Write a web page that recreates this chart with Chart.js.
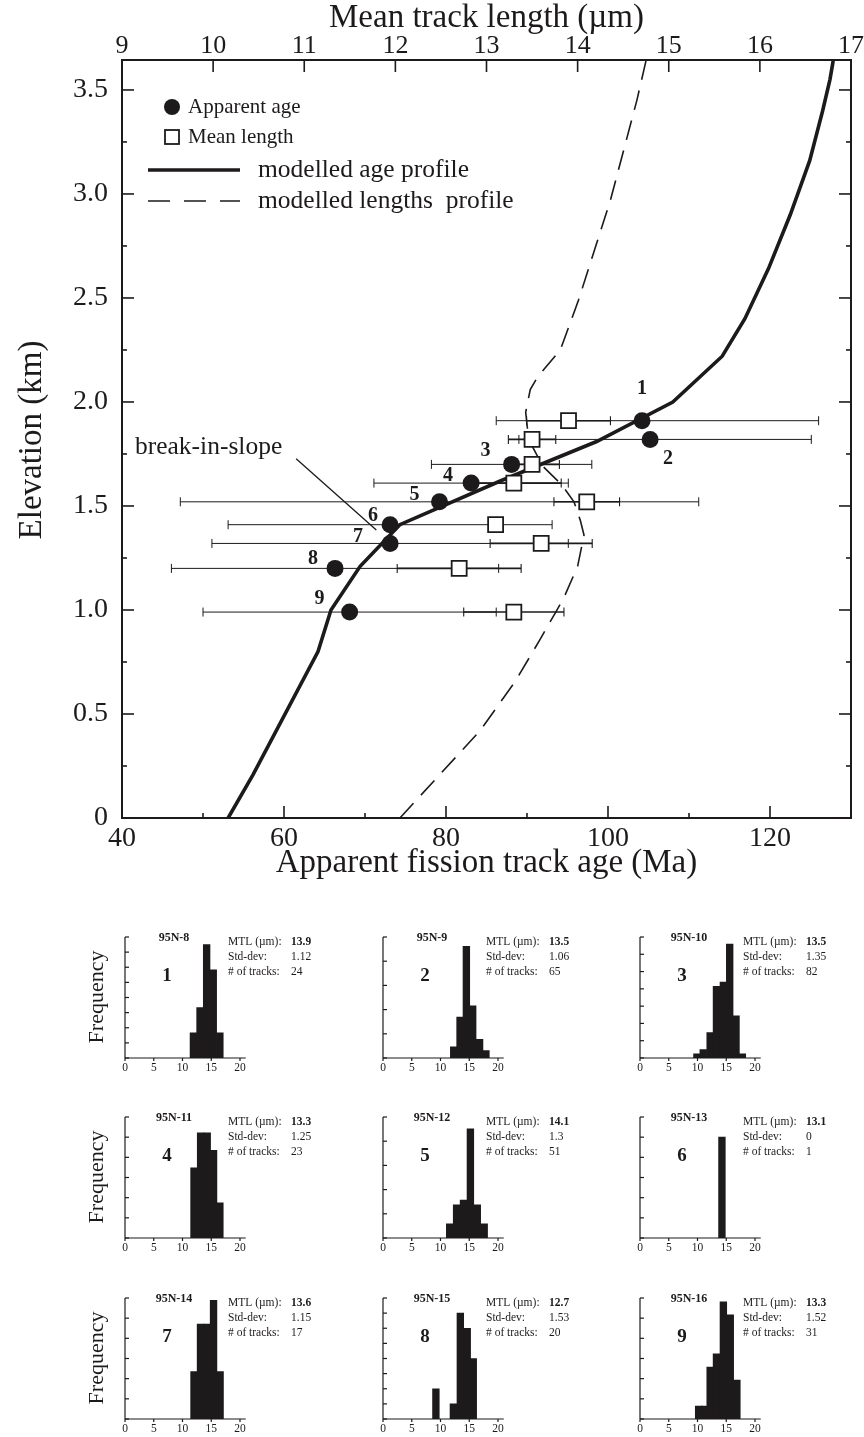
<!DOCTYPE html>
<html>
<head>
<meta charset="utf-8">
<script src="https://cdn.jsdelivr.net/npm/chart.js@4.4.1/dist/chart.umd.min.js"></script>
<style>
  body { margin: 0; background: #fff; }
  #page { position: relative; width: 864px; height: 1437px; overflow: hidden; }
  canvas { position: absolute; }
</style>
</head>
<body>
<div id="page">
  <canvas id="main" width="864" height="900" style="left:0;top:0"></canvas>
</div>
<script>
// ---- data ----
const sampleNo = ['1', '2', '3', '4', '5', '6', '7', '8', '9'];
const sampleId = ['95N-8', '95N-9', '95N-10', '95N-11', '95N-12', '95N-13', '95N-14', '95N-15', '95N-16'];
const elevation = [1.91, 1.82, 1.70, 1.61, 1.52, 1.41, 1.32, 1.20, 0.99];       // km
const apparentAge = [104.2, 105.2, 88.1, 83.1, 79.2, 73.1, 73.1, 66.3, 68.1];    // Ma
const ageErrLow = [18.0, 16.2, 9.9, 12.0, 32.0, 20.0, 22.0, 20.2, 18.1];         // Ma, left arm
const ageErrHigh = [21.8, 19.9, 9.9, 12.0, 32.0, 20.0, 22.0, 20.2, 18.1];        // Ma, right arm
const meanLength = [13.9, 13.5, 13.5, 13.3, 14.1, 13.1, 13.6, 12.7, 13.3];      // um
const lengthErr = [0.46, 0.26, 0.30, 0.52, 0.36, 0, 0.56, 0.68, 0.55];          // um
const stdDev = ['1.12', '1.06', '1.35', '1.25', '1.3', '0', '1.15', '1.53', '1.52'];
const nTracks = [24, 65, 82, 23, 51, 1, 17, 20, 31];

// modelled profiles
const ageProfileElev = [0, 0.21, 0.80, 1.00, 1.21, 1.41, 1.62, 1.81, 2.00, 2.22, 2.40, 2.64, 2.90, 3.16, 3.40, 3.55, 3.64];
const ageProfileAge = [53.1, 56.2, 64.2, 65.8, 69.4, 74.3, 86.7, 98.6, 108.0, 114.1, 116.9, 119.8, 122.5, 124.9, 126.5, 127.4, 127.8];
const lenProfileElev = [0, 0.21, 0.42, 0.66, 0.86, 0.99, 1.06, 1.21, 1.36, 1.43, 1.52, 1.60, 1.69, 1.78, 1.87, 1.95, 2.06, 2.12, 2.25, 2.49, 2.97, 3.45, 3.64];
const lenProfileLen = [12.05, 12.49, 12.93, 13.32, 13.59, 13.76, 13.85, 14.00, 14.07, 14.03, 13.96, 13.83, 13.62, 13.51, 13.45, 13.43, 13.48, 13.56, 13.81, 14.01, 14.36, 14.65, 14.75];

// axis ticks
const ageTicks = [40, 60, 80, 100, 120];
const lengthTicks = [9, 10, 11, 12, 13, 14, 15, 16, 17];
const elevTicks = [0, 0.5, 1.0, 1.5, 2.0, 2.5, 3.0, 3.5];
const elevTickLabels = ['0', '0.5', '1.0', '1.5', '2.0', '2.5', '3.0', '3.5'];

// track length histograms (bin centres in um, counts of tracks)
const histBinMid = [
  [11.9, 13.05, 14.2, 15.35, 16.5],
  [12.3, 13.4, 14.5, 15.6, 16.8, 17.9],
  [9.9, 11.0, 12.2, 13.3, 14.5, 15.6, 16.7, 17.8],
  [12.0, 13.15, 14.3, 15.4, 16.5],
  [11.6, 12.8, 14.0, 15.2, 16.4, 17.6],
  [14.25],
  [12.0, 13.13, 14.27, 15.4, 16.54],
  [9.2, 12.24, 13.45, 14.65, 15.7],
  [10.2, 11.25, 12.2, 13.3, 14.5, 15.7, 16.85]
];
const histCount = [
  [2, 4, 9, 7, 2],
  [3, 11, 30, 14, 5, 2],
  [1, 2, 6, 17, 18, 27, 10, 1],
  [4, 6, 6, 5, 2],
  [3, 7, 8, 23, 7, 3],
  [1],
  [2, 4, 4, 5, 2],
  [2, 1, 7, 6, 4],
  [1, 1, 4, 5, 9, 8, 3]
];
const histMaxPct = [40, 50, 35, 30, 50, 120, 30, 40, 30];
const histStepPct = [5, 10, 5, 5, 10, 20, 5, 5, 5];
const histTicks = [0, 5, 10, 15, 20];

// ---- styling ----
const INK = '#1d1a1b';
const SERIF = '"Liberation Serif", "DejaVu Serif", serif';
Chart.defaults.font.family = SERIF;

function line(ctx, x1, y1, x2, y2) {
  ctx.beginPath(); ctx.moveTo(x1, y1); ctx.lineTo(x2, y2); ctx.stroke();
}

// error bars under the markers
const errorBars = {
  id: 'errorBars',
  beforeDatasetsDraw(chart) {
    const { ctx, scales: { x, x2, y } } = chart;
    ctx.save();
    ctx.strokeStyle = INK;
    elevation.forEach((e, i) => {
      const py = y.getPixelForValue(e);
      // age error (thin)
      const a1 = x.getPixelForValue(apparentAge[i] - ageErrLow[i]);
      const a2 = x.getPixelForValue(apparentAge[i] + ageErrHigh[i]);
      ctx.lineWidth = 1;
      line(ctx, a1, py, a2, py);
      line(ctx, a1, py - 4.5, a1, py + 4.5);
      line(ctx, a2, py - 4.5, a2, py + 4.5);
      // length error (thicker)
      if (lengthErr[i] > 0) {
        const l1 = x2.getPixelForValue(meanLength[i] - lengthErr[i]);
        const l2 = x2.getPixelForValue(meanLength[i] + lengthErr[i]);
        ctx.lineWidth = 1.6;
        line(ctx, l1, py, l2, py);
        ctx.lineWidth = 1.1;
        line(ctx, l1, py - 4.5, l1, py + 4.5);
        line(ctx, l2, py - 4.5, l2, py + 4.5);
      }
    });
    ctx.restore();
  }
};

// frame, inward ticks, labels, legend and notes
const labelOffset = [[0, -32], [18, 19], [-26, -14], [-23, -7], [-25, -7], [-17, -9], [-32, -7], [-22, -10], [-30, -13]];
const breakNote = { textAge: 41.6, textElev: 1.78, fromAge: 61.5, fromElev: 1.727, toAge: 71.4, toElev: 1.385 };

const mainAxes = {
  id: 'mainAxes',
  afterDraw(chart) {
    const { ctx, chartArea: a, scales: { x, x2, y } } = chart;
    ctx.save();
    ctx.strokeStyle = INK; ctx.fillStyle = INK;
    ctx.lineWidth = 2;
    ctx.strokeRect(a.left, a.top, a.right - a.left, a.bottom - a.top);

    ctx.lineWidth = 1.6;
    // top axis (mean track length)
    ctx.font = '26px ' + SERIF; ctx.textAlign = 'center'; ctx.textBaseline = 'middle';
    lengthTicks.forEach(v => {
      const px = x2.getPixelForValue(v);
      line(ctx, px, a.top, px, a.top + 12);
      ctx.fillText(String(v), px, a.top - 14);
    });
    // bottom axis (age)
    ctx.font = '28px ' + SERIF;
    for (let v = 40; v <= 130; v += 10) {
      const px = x.getPixelForValue(v);
      const len = (v % 20 === 0) ? 12 : 5;
      line(ctx, px, a.bottom, px, a.bottom - len);
    }
    ageTicks.forEach(v => ctx.fillText(String(v), x.getPixelForValue(v), a.bottom + 21));
    // left / right axis (elevation)
    for (let v = 0; v <= 3.6; v += 0.25) {
      const py = y.getPixelForValue(v);
      const len = (Math.abs(v * 2 - Math.round(v * 2)) < 1e-6) ? 12 : 5;
      line(ctx, a.left, py, a.left + len, py);
      line(ctx, a.right, py, a.right - len, py);
    }
    ctx.textAlign = 'right';
    elevTicks.forEach((v, i) => ctx.fillText(elevTickLabels[i], a.left - 14, y.getPixelForValue(v)));

    // axis titles
    ctx.textAlign = 'center';
    ctx.font = '33px ' + SERIF;
    ctx.fillText('Mean track length (\u00b5m)', (a.left + a.right) / 2, 18);
    ctx.fillText('Apparent fission track age (Ma)', (a.left + a.right) / 2, a.bottom + 45);
    ctx.save();
    ctx.translate(32, 440); ctx.rotate(-Math.PI / 2);
    ctx.fillText('Elevation (km)', 0, 0);
    ctx.restore();

    // sample numbers
    ctx.font = 'bold 20px ' + SERIF;
    sampleNo.forEach((s, i) => {
      const px = x.getPixelForValue(apparentAge[i]) + labelOffset[i][0];
      const py = y.getPixelForValue(elevation[i]) + labelOffset[i][1];
      ctx.fillText(s, px, py);
    });

    // break-in-slope note
    ctx.font = '25.5px ' + SERIF; ctx.textAlign = 'left';
    ctx.fillText('break-in-slope', x.getPixelForValue(breakNote.textAge), y.getPixelForValue(breakNote.textElev));
    ctx.lineWidth = 1.3;
    line(ctx, x.getPixelForValue(breakNote.fromAge), y.getPixelForValue(breakNote.fromElev),
      x.getPixelForValue(breakNote.toAge), y.getPixelForValue(breakNote.toElev));

    // legend
    const lx = a.left + 50, tx = a.left + 66;
    ctx.font = '21px ' + SERIF;
    ctx.beginPath(); ctx.arc(lx, 107, 8, 0, Math.PI * 2); ctx.fill();
    ctx.fillText('Apparent age', tx, 107);
    ctx.lineWidth = 1.8; ctx.fillStyle = '#fff';
    ctx.fillRect(lx - 7, 130, 14, 14); ctx.strokeRect(lx - 7, 130, 14, 14);
    ctx.fillStyle = INK;
    ctx.fillText('Mean length', tx, 137);
    ctx.font = '25.5px ' + SERIF;
    ctx.lineWidth = 3.6;
    line(ctx, a.left + 26, 170, a.left + 118, 170);
    ctx.fillText('modelled age profile', a.left + 136, 170);
    ctx.lineWidth = 1.6; ctx.setLineDash([22, 14]);
    line(ctx, a.left + 26, 201, a.left + 118, 201);
    ctx.setLineDash([]);
    ctx.fillText('modelled lengths  profile', a.left + 136, 201);
    ctx.restore();
  }
};

new Chart(document.getElementById('main'), {
  type: 'scatter',
  data: {
    datasets: [
      {
        label: 'Apparent age', xAxisID: 'x', yAxisID: 'y',
        data: apparentAge.map((v, i) => ({ x: v, y: elevation[i] })),
        pointStyle: 'circle', pointRadius: 8.5, backgroundColor: INK, borderColor: INK, borderWidth: 0
      },
      {
        label: 'Mean length', xAxisID: 'x2', yAxisID: 'y',
        data: meanLength.map((v, i) => ({ x: v, y: elevation[i] })),
        pointStyle: 'rect', pointRadius: 10.6, backgroundColor: '#fff', borderColor: INK, borderWidth: 1.8
      },
      {
        label: 'modelled age profile', xAxisID: 'x', yAxisID: 'y', showLine: true,
        data: ageProfileAge.map((v, i) => ({ x: v, y: ageProfileElev[i] })),
        borderColor: INK, borderWidth: 3.6, pointRadius: 0, tension: 0
      },
      {
        label: 'modelled lengths profile', xAxisID: 'x2', yAxisID: 'y', showLine: true,
        data: lenProfileLen.map((v, i) => ({ x: v, y: lenProfileElev[i] })),
        borderColor: INK, borderWidth: 1.6, borderDash: [20, 11], pointRadius: 0, tension: 0
      }
    ]
  },
  options: {
    responsive: false, animation: false, devicePixelRatio: 1,
    layout: { padding: { left: 122, top: 60, right: 13, bottom: 82 } },
    scales: {
      x: { type: 'linear', position: 'bottom', min: 40, max: 130, display: false },
      x2: { type: 'linear', position: 'top', min: 9, max: 17, display: false },
      y: { type: 'linear', min: 0, max: 3.644, display: false }
    },
    plugins: { legend: { display: false }, tooltip: { enabled: false } }
  },
  plugins: [errorBars, mainAxes]
});

// ---- histograms ----
const histColX = [125, 383, 640];
const histRowTop = [937, 1117, 1298];
const HIST_H = 121, HIST_W = 120.75, PAD_L = 45, PAD_T = 20, CV_W = 270, CV_H = 166;

const histDecor = {
  id: 'histDecor',
  afterDraw(chart) {
    const k = chart.options.plugins.histDecor.index;
    const { ctx, chartArea: a, scales: { x, y } } = chart;
    ctx.save();
    ctx.strokeStyle = INK; ctx.fillStyle = INK; ctx.lineWidth = 1.2;
    line(ctx, a.left, a.top, a.left, a.bottom);
    line(ctx, a.left, a.bottom, a.right, a.bottom);
    for (let v = 0; v <= histMaxPct[k] + 1e-6; v += histStepPct[k]) {
      const py = y.getPixelForValue(v);
      line(ctx, a.left, py, a.left + 4, py);
    }
    ctx.font = '11.5px ' + SERIF; ctx.textAlign = 'center'; ctx.textBaseline = 'middle';
    histTicks.forEach(v => {
      const px = x.getPixelForValue(v);
      line(ctx, px, a.bottom, px, a.bottom + 3);
      ctx.fillText(String(v), px, a.bottom + 10);
    });
    // sample id and number
    ctx.font = 'bold 12px ' + SERIF;
    ctx.fillText(sampleId[k], a.left + 49, a.top + 1);
    ctx.font = 'bold 19px ' + SERIF;
    ctx.fillText(sampleNo[k], a.left + 42, a.top + 39);
    // statistics
    ctx.textAlign = 'left';
    ctx.font = '11.5px ' + SERIF;
    ctx.fillText('MTL (\u00b5m):', a.left + 103, a.top + 5);
    ctx.fillText('Std-dev:', a.left + 103, a.top + 20);
    ctx.fillText('# of tracks:', a.left + 103, a.top + 35);
    ctx.fillText(stdDev[k], a.left + 166, a.top + 20);
    ctx.fillText(String(nTracks[k]), a.left + 166, a.top + 35);
    ctx.font = 'bold 11.5px ' + SERIF;
    ctx.fillText(meanLength[k].toFixed(1), a.left + 166, a.top + 5);
    if (k % 3 === 0) {
      ctx.font = '22px ' + SERIF; ctx.textAlign = 'center';
      ctx.save();
      ctx.translate(a.left - 28, a.top + 60); ctx.rotate(-Math.PI / 2);
      ctx.fillText('Frequency', 0, 0);
      ctx.restore();
    }
    ctx.restore();
  }
};

const page = document.getElementById('page');
sampleId.forEach((id, k) => {
  const col = k % 3, row = Math.floor(k / 3);
  const cv = document.createElement('canvas');
  cv.width = CV_W; cv.height = CV_H;
  cv.style.left = (histColX[col] - PAD_L) + 'px';
  cv.style.top = (histRowTop[row] - PAD_T) + 'px';
  page.appendChild(cv);
  new Chart(cv, {
    type: 'bar',
    data: {
      datasets: [{
        data: histBinMid[k].map((m, j) => ({ x: m, y: histCount[k][j] / nTracks[k] * 100 })),
        backgroundColor: INK, borderWidth: 0, barThickness: 6.7
      }]
    },
    options: {
      responsive: false, animation: false, devicePixelRatio: 1,
      layout: { padding: { left: PAD_L, top: PAD_T, right: CV_W - PAD_L - HIST_W, bottom: CV_H - PAD_T - HIST_H } },
      scales: {
        x: { type: 'linear', min: 0, max: 21, offset: false, display: false },
        y: { min: 0, max: histMaxPct[k], display: false }
      },
      plugins: { legend: { display: false }, tooltip: { enabled: false }, histDecor: { index: k } }
    },
    plugins: [histDecor]
  });
});
</script>
</body>
</html>
